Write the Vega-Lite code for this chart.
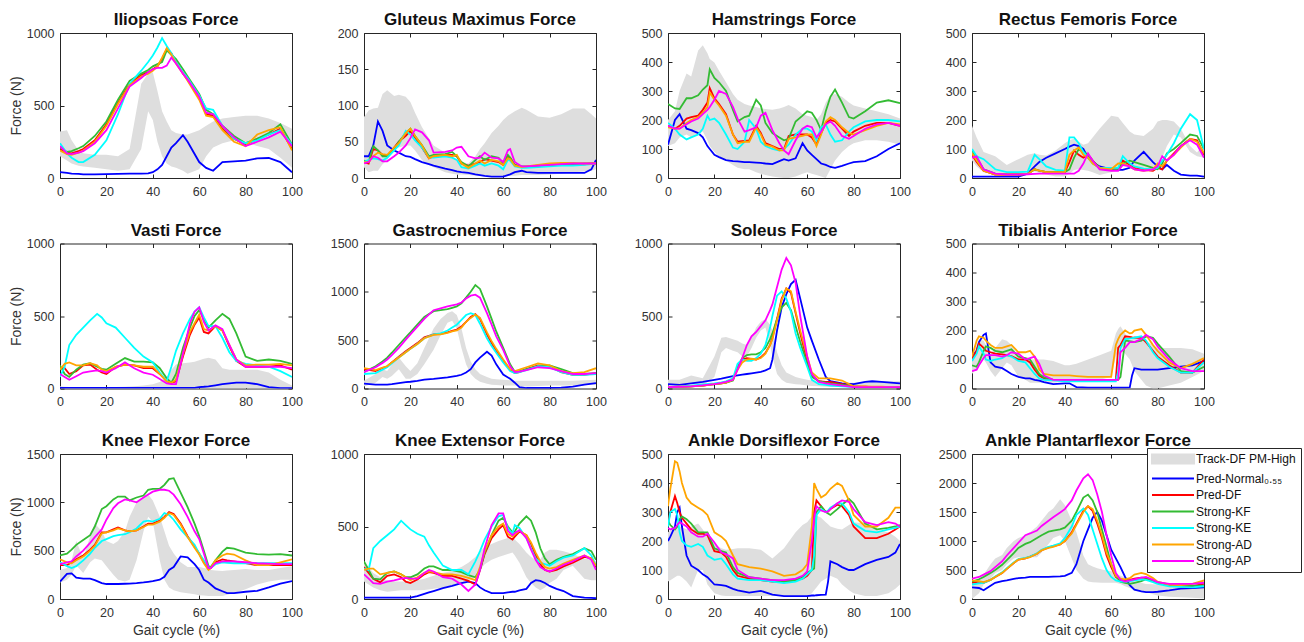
{
"$schema":"https://vega.github.io/schema/vega-lite/v6.json",
"padding":{"left":8,"top":10,"right":4,"bottom":2},
"background":"white",
"data":{"values":[
{"p":1,"x":0,"lo":150,"hi":320,"N":40,"DF":200,"KF":210,"KE":240,"AD":190,"AP":220},
{"p":1,"x":3,"lo":120,"hi":330,"N":35,"DF":175,"KF":180,"KE":170,"AD":165,"AP":170},
{"p":1,"x":5,"lo":100,"hi":260,"N":30,"DF":170,"KF":185,"KE":140,"AD":160,"AP":165},
{"p":1,"x":8,"lo":85,"hi":190,"N":28,"DF":185,"KF":205,"KE":110,"AD":175,"AP":175},
{"p":1,"x":10,"lo":80,"hi":170,"N":25,"DF":200,"KF":220,"KE":110,"AD":190,"AP":185},
{"p":1,"x":15,"lo":70,"hi":160,"N":25,"DF":260,"KF":290,"KE":160,"AD":250,"AP":240},
{"p":1,"x":20,"lo":60,"hi":160,"N":27,"DF":370,"KF":390,"KE":260,"AD":360,"AP":330},
{"p":1,"x":25,"lo":50,"hi":150,"N":28,"DF":520,"KF":540,"KE":440,"AD":510,"AP":480},
{"p":1,"x":30,"lo":60,"hi":200,"N":30,"DF":650,"KF":670,"KE":650,"AD":640,"AP":630},
{"p":1,"x":35,"lo":200,"hi":650,"N":30,"DF":710,"KF":720,"KE":740,"AD":700,"AP":690},
{"p":1,"x":38,"lo":460,"hi":720,"N":32,"DF":730,"KF":745,"KE":800,"AD":720,"AP":730},
{"p":1,"x":40,"lo":400,"hi":730,"N":40,"DF":750,"KF":770,"KE":845,"AD":740,"AP":750},
{"p":1,"x":42,"lo":250,"hi":600,"N":60,"DF":770,"KF":785,"KE":900,"AD":770,"AP":760},
{"p":1,"x":44,"lo":150,"hi":460,"N":90,"DF":820,"KF":800,"KE":965,"AD":830,"AP":760},
{"p":1,"x":46,"lo":100,"hi":390,"N":150,"DF":890,"KF":880,"KE":910,"AD":895,"AP":775},
{"p":1,"x":48,"lo":80,"hi":330,"N":210,"DF":860,"KF":850,"KE":860,"AD":850,"AP":830},
{"p":1,"x":50,"lo":70,"hi":310,"N":240,"DF":800,"KF":820,"KE":800,"AD":790,"AP":790},
{"p":1,"x":53,"lo":50,"hi":300,"N":295,"DF":720,"KF":750,"KE":730,"AD":720,"AP":720},
{"p":1,"x":55,"lo":30,"hi":300,"N":250,"DF":680,"KF":700,"KE":690,"AD":670,"AP":680},
{"p":1,"x":60,"lo":60,"hi":330,"N":110,"DF":560,"KF":580,"KE":570,"AD":540,"AP":560},
{"p":1,"x":63,"lo":150,"hi":360,"N":70,"DF":440,"KF":470,"KE":480,"AD":430,"AP":450},
{"p":1,"x":66,"lo":210,"hi":390,"N":50,"DF":430,"KF":440,"KE":470,"AD":420,"AP":440},
{"p":1,"x":70,"lo":240,"hi":410,"N":110,"DF":340,"KF":360,"KE":360,"AD":330,"AP":360},
{"p":1,"x":75,"lo":260,"hi":420,"N":115,"DF":270,"KF":290,"KE":270,"AD":250,"AP":280},
{"p":1,"x":80,"lo":250,"hi":430,"N":120,"DF":230,"KF":240,"KE":240,"AD":220,"AP":220},
{"p":1,"x":85,"lo":220,"hi":430,"N":135,"DF":270,"KF":270,"KE":260,"AD":300,"AP":250},
{"p":1,"x":90,"lo":200,"hi":410,"N":138,"DF":300,"KF":310,"KE":300,"AD":330,"AP":280},
{"p":1,"x":95,"lo":140,"hi":380,"N":110,"DF":340,"KF":370,"KE":330,"AD":350,"AP":320},
{"p":1,"x":100,"lo":70,"hi":340,"N":40,"DF":200,"KF":230,"KE":230,"AD":190,"AP":220},
{"p":2,"x":0,"lo":15,"hi":84,"N":30,"DF":22,"KF":24,"KE":22,"AD":22,"AP":20},
{"p":2,"x":2,"lo":8,"hi":93,"N":30,"DF":20,"KF":22,"KE":25,"AD":22,"AP":22},
{"p":2,"x":4,"lo":10,"hi":96,"N":45,"DF":40,"KF":44,"KE":27,"AD":30,"AP":30},
{"p":2,"x":6,"lo":10,"hi":97,"N":78,"DF":38,"KF":38,"KE":26,"AD":35,"AP":28},
{"p":2,"x":8,"lo":19,"hi":116,"N":65,"DF":32,"KF":30,"KE":24,"AD":33,"AP":23},
{"p":2,"x":10,"lo":25,"hi":121,"N":45,"DF":30,"KF":30,"KE":28,"AD":32,"AP":23},
{"p":2,"x":13,"lo":40,"hi":113,"N":38,"DF":42,"KF":40,"KE":38,"AD":42,"AP":30},
{"p":2,"x":15,"lo":42,"hi":115,"N":35,"DF":50,"KF":50,"KE":45,"AD":48,"AP":35},
{"p":2,"x":18,"lo":45,"hi":112,"N":30,"DF":58,"KF":62,"KE":65,"AD":62,"AP":45},
{"p":2,"x":20,"lo":45,"hi":105,"N":29,"DF":65,"KF":68,"KE":60,"AD":68,"AP":55},
{"p":2,"x":22,"lo":38,"hi":90,"N":26,"DF":56,"KF":58,"KE":52,"AD":58,"AP":67},
{"p":2,"x":25,"lo":25,"hi":70,"N":22,"DF":42,"KF":45,"KE":42,"AD":45,"AP":63},
{"p":2,"x":28,"lo":18,"hi":55,"N":19,"DF":27,"KF":30,"KE":28,"AD":27,"AP":52},
{"p":2,"x":30,"lo":15,"hi":45,"N":17,"DF":30,"KF":32,"KE":28,"AD":30,"AP":35},
{"p":2,"x":35,"lo":8,"hi":35,"N":13,"DF":32,"KF":33,"KE":30,"AD":32,"AP":36},
{"p":2,"x":38,"lo":6,"hi":28,"N":11,"DF":32,"KF":36,"KE":28,"AD":30,"AP":38},
{"p":2,"x":40,"lo":5,"hi":25,"N":9,"DF":30,"KF":30,"KE":25,"AD":32,"AP":42},
{"p":2,"x":42,"lo":5,"hi":22,"N":8,"DF":20,"KF":22,"KE":15,"AD":20,"AP":43},
{"p":2,"x":45,"lo":4,"hi":20,"N":7,"DF":17,"KF":16,"KE":13,"AD":14,"AP":30},
{"p":2,"x":48,"lo":3,"hi":30,"N":5,"DF":20,"KF":25,"KE":17,"AD":20,"AP":27},
{"p":2,"x":50,"lo":3,"hi":40,"N":4,"DF":22,"KF":30,"KE":20,"AD":24,"AP":28},
{"p":2,"x":52,"lo":3,"hi":48,"N":3,"DF":26,"KF":25,"KE":17,"AD":20,"AP":35},
{"p":2,"x":55,"lo":3,"hi":62,"N":2,"DF":24,"KF":30,"KE":20,"AD":25,"AP":28},
{"p":2,"x":58,"lo":3,"hi":72,"N":2,"DF":22,"KF":28,"KE":17,"AD":23,"AP":27},
{"p":2,"x":60,"lo":3,"hi":80,"N":2,"DF":18,"KF":20,"KE":12,"AD":18,"AP":22},
{"p":2,"x":62,"lo":3,"hi":86,"N":4,"DF":30,"KF":32,"KE":25,"AD":27,"AP":38},
{"p":2,"x":63,"lo":3,"hi":88,"N":5,"DF":28,"KF":28,"KE":24,"AD":26,"AP":40},
{"p":2,"x":65,"lo":3,"hi":92,"N":8,"DF":18,"KF":18,"KE":16,"AD":17,"AP":22},
{"p":2,"x":68,"lo":4,"hi":97,"N":10,"DF":15,"KF":16,"KE":14,"AD":15,"AP":16},
{"p":2,"x":70,"lo":4,"hi":94,"N":8,"DF":15,"KF":16,"KE":14,"AD":16,"AP":16},
{"p":2,"x":75,"lo":4,"hi":85,"N":7,"DF":16,"KF":17,"KE":15,"AD":18,"AP":17},
{"p":2,"x":80,"lo":5,"hi":83,"N":7,"DF":18,"KF":18,"KE":16,"AD":20,"AP":18},
{"p":2,"x":85,"lo":6,"hi":88,"N":7,"DF":18,"KF":19,"KE":17,"AD":21,"AP":19},
{"p":2,"x":90,"lo":8,"hi":96,"N":7,"DF":19,"KF":19,"KE":17,"AD":21,"AP":20},
{"p":2,"x":95,"lo":9,"hi":96,"N":7,"DF":19,"KF":20,"KE":18,"AD":20,"AP":20},
{"p":2,"x":98,"lo":10,"hi":88,"N":12,"DF":20,"KF":20,"KE":19,"AD":20,"AP":20},
{"p":2,"x":100,"lo":12,"hi":82,"N":25,"DF":20,"KF":20,"KE":20,"AD":20,"AP":20},
{"p":3,"x":0,"lo":110,"hi":200,"N":115,"DF":180,"KF":255,"KE":190,"AD":175,"AP":180},
{"p":3,"x":3,"lo":120,"hi":230,"N":200,"DF":170,"KF":240,"KE":170,"AD":170,"AP":170},
{"p":3,"x":5,"lo":140,"hi":300,"N":220,"DF":180,"KF":238,"KE":150,"AD":170,"AP":170},
{"p":3,"x":8,"lo":150,"hi":360,"N":170,"DF":205,"KF":275,"KE":133,"AD":190,"AP":185},
{"p":3,"x":10,"lo":140,"hi":350,"N":165,"DF":210,"KF":275,"KE":140,"AD":200,"AP":195},
{"p":3,"x":13,"lo":150,"hi":440,"N":155,"DF":215,"KF":285,"KE":150,"AD":210,"AP":205},
{"p":3,"x":15,"lo":160,"hi":458,"N":140,"DF":235,"KF":305,"KE":170,"AD":225,"AP":220},
{"p":3,"x":17,"lo":130,"hi":430,"N":110,"DF":260,"KF":320,"KE":215,"AD":245,"AP":235},
{"p":3,"x":18,"lo":110,"hi":410,"N":100,"DF":310,"KF":375,"KE":200,"AD":295,"AP":245},
{"p":3,"x":20,"lo":90,"hi":398,"N":80,"DF":275,"KF":345,"KE":205,"AD":270,"AP":270},
{"p":3,"x":22,"lo":75,"hi":370,"N":72,"DF":255,"KF":330,"KE":190,"AD":250,"AP":300},
{"p":3,"x":25,"lo":60,"hi":330,"N":62,"DF":220,"KF":300,"KE":150,"AD":215,"AP":290},
{"p":3,"x":28,"lo":45,"hi":290,"N":58,"DF":150,"KF":235,"KE":105,"AD":150,"AP":245},
{"p":3,"x":30,"lo":35,"hi":270,"N":57,"DF":125,"KF":195,"KE":100,"AD":120,"AP":205},
{"p":3,"x":33,"lo":30,"hi":255,"N":55,"DF":128,"KF":210,"KE":125,"AD":125,"AP":160},
{"p":3,"x":35,"lo":30,"hi":250,"N":55,"DF":130,"KF":215,"KE":200,"AD":125,"AP":165},
{"p":3,"x":38,"lo":20,"hi":245,"N":53,"DF":180,"KF":270,"KE":170,"AD":175,"AP":175},
{"p":3,"x":40,"lo":15,"hi":240,"N":52,"DF":155,"KF":250,"KE":125,"AD":150,"AP":215},
{"p":3,"x":42,"lo":10,"hi":238,"N":50,"DF":120,"KF":190,"KE":110,"AD":115,"AP":225},
{"p":3,"x":45,"lo":5,"hi":235,"N":48,"DF":110,"KF":155,"KE":100,"AD":108,"AP":165},
{"p":3,"x":48,"lo":2,"hi":240,"N":58,"DF":100,"KF":140,"KE":95,"AD":95,"AP":120},
{"p":3,"x":50,"lo":0,"hi":245,"N":65,"DF":100,"KF":130,"KE":100,"AD":95,"AP":95},
{"p":3,"x":52,"lo":0,"hi":252,"N":60,"DF":145,"KF":135,"KE":115,"AD":135,"AP":82},
{"p":3,"x":55,"lo":5,"hi":240,"N":68,"DF":150,"KF":195,"KE":150,"AD":140,"AP":130},
{"p":3,"x":58,"lo":15,"hi":220,"N":120,"DF":150,"KF":215,"KE":170,"AD":145,"AP":170},
{"p":3,"x":60,"lo":20,"hi":215,"N":95,"DF":150,"KF":230,"KE":170,"AD":150,"AP":180},
{"p":3,"x":62,"lo":15,"hi":210,"N":80,"DF":140,"KF":225,"KE":160,"AD":150,"AP":175},
{"p":3,"x":64,"lo":10,"hi":200,"N":65,"DF":115,"KF":200,"KE":130,"AD":110,"AP":140},
{"p":3,"x":66,"lo":5,"hi":220,"N":50,"DF":155,"KF":165,"KE":175,"AD":150,"AP":160},
{"p":3,"x":68,"lo":0,"hi":260,"N":45,"DF":190,"KF":230,"KE":185,"AD":195,"AP":185},
{"p":3,"x":70,"lo":30,"hi":285,"N":38,"DF":200,"KF":280,"KE":150,"AD":210,"AP":195},
{"p":3,"x":72,"lo":60,"hi":290,"N":35,"DF":195,"KF":305,"KE":125,"AD":200,"AP":180},
{"p":3,"x":75,"lo":90,"hi":280,"N":42,"DF":170,"KF":260,"KE":130,"AD":175,"AP":145},
{"p":3,"x":78,"lo":110,"hi":260,"N":50,"DF":145,"KF":210,"KE":160,"AD":155,"AP":135},
{"p":3,"x":80,"lo":120,"hi":250,"N":55,"DF":160,"KF":205,"KE":175,"AD":150,"AP":145},
{"p":3,"x":85,"lo":130,"hi":240,"N":58,"DF":180,"KF":230,"KE":195,"AD":165,"AP":170},
{"p":3,"x":90,"lo":130,"hi":230,"N":75,"DF":190,"KF":260,"KE":200,"AD":180,"AP":185},
{"p":3,"x":95,"lo":125,"hi":220,"N":100,"DF":190,"KF":268,"KE":200,"AD":190,"AP":190},
{"p":3,"x":100,"lo":115,"hi":205,"N":120,"DF":180,"KF":258,"KE":195,"AD":185,"AP":180},
{"p":4,"x":0,"lo":60,"hi":180,"N":5,"DF":80,"KF":95,"KE":100,"AD":85,"AP":70},
{"p":4,"x":2,"lo":40,"hi":140,"N":5,"DF":55,"KF":70,"KE":75,"AD":60,"AP":75},
{"p":4,"x":5,"lo":20,"hi":90,"N":5,"DF":25,"KF":30,"KE":65,"AD":25,"AP":30},
{"p":4,"x":10,"lo":10,"hi":75,"N":5,"DF":12,"KF":15,"KE":30,"AD":12,"AP":15},
{"p":4,"x":15,"lo":5,"hi":45,"N":5,"DF":12,"KF":13,"KE":20,"AD":12,"AP":12},
{"p":4,"x":20,"lo":10,"hi":65,"N":5,"DF":12,"KF":12,"KE":20,"AD":12,"AP":12},
{"p":4,"x":24,"lo":20,"hi":80,"N":15,"DF":14,"KF":14,"KE":22,"AD":14,"AP":13},
{"p":4,"x":27,"lo":22,"hi":85,"N":40,"DF":30,"KF":30,"KE":80,"AD":30,"AP":14},
{"p":4,"x":29,"lo":18,"hi":80,"N":55,"DF":25,"KF":25,"KE":65,"AD":25,"AP":15},
{"p":4,"x":32,"lo":12,"hi":78,"N":70,"DF":20,"KF":20,"KE":40,"AD":20,"AP":15},
{"p":4,"x":36,"lo":5,"hi":95,"N":85,"DF":20,"KF":20,"KE":28,"AD":20,"AP":15},
{"p":4,"x":40,"lo":5,"hi":120,"N":100,"DF":20,"KF":20,"KE":25,"AD":20,"AP":15},
{"p":4,"x":42,"lo":15,"hi":130,"N":108,"DF":55,"KF":30,"KE":140,"AD":80,"AP":15},
{"p":4,"x":44,"lo":28,"hi":135,"N":115,"DF":95,"KF":70,"KE":140,"AD":95,"AP":15},
{"p":4,"x":46,"lo":30,"hi":125,"N":110,"DF":80,"KF":100,"KE":120,"AD":105,"AP":25},
{"p":4,"x":48,"lo":28,"hi":115,"N":100,"DF":70,"KF":90,"KE":90,"AD":80,"AP":50},
{"p":4,"x":50,"lo":25,"hi":120,"N":70,"DF":80,"KF":80,"KE":70,"AD":70,"AP":85},
{"p":4,"x":52,"lo":20,"hi":140,"N":55,"DF":60,"KF":60,"KE":50,"AD":50,"AP":60},
{"p":4,"x":55,"lo":10,"hi":170,"N":40,"DF":35,"KF":35,"KE":35,"AD":35,"AP":30},
{"p":4,"x":60,"lo":20,"hi":215,"N":30,"DF":30,"KF":30,"KE":35,"AD":30,"AP":25},
{"p":4,"x":63,"lo":30,"hi":210,"N":28,"DF":30,"KF":30,"KE":35,"AD":50,"AP":25},
{"p":4,"x":65,"lo":40,"hi":190,"N":28,"DF":60,"KF":50,"KE":75,"AD":50,"AP":45},
{"p":4,"x":68,"lo":40,"hi":160,"N":35,"DF":45,"KF":60,"KE":50,"AD":40,"AP":40},
{"p":4,"x":70,"lo":40,"hi":150,"N":60,"DF":35,"KF":55,"KE":40,"AD":30,"AP":30},
{"p":4,"x":74,"lo":30,"hi":145,"N":90,"DF":28,"KF":45,"KE":32,"AD":25,"AP":25},
{"p":4,"x":78,"lo":30,"hi":170,"N":55,"DF":25,"KF":35,"KE":30,"AD":30,"AP":30},
{"p":4,"x":80,"lo":40,"hi":195,"N":40,"DF":35,"KF":30,"KE":35,"AD":50,"AP":40},
{"p":4,"x":82,"lo":70,"hi":200,"N":30,"DF":30,"KF":50,"KE":60,"AD":40,"AP":75},
{"p":4,"x":84,"lo":110,"hi":200,"N":45,"DF":60,"KF":85,"KE":80,"AD":60,"AP":60},
{"p":4,"x":87,"lo":150,"hi":195,"N":25,"DF":85,"KF":100,"KE":120,"AD":80,"AP":80},
{"p":4,"x":90,"lo":140,"hi":170,"N":12,"DF":110,"KF":120,"KE":170,"AD":105,"AP":110},
{"p":4,"x":94,"lo":90,"hi":110,"N":8,"DF":135,"KF":150,"KE":220,"AD":135,"AP":130},
{"p":4,"x":97,"lo":75,"hi":88,"N":8,"DF":130,"KF":145,"KE":200,"AD":125,"AP":115},
{"p":4,"x":100,"lo":70,"hi":120,"N":5,"DF":80,"KF":100,"KE":100,"AD":85,"AP":70},
{"p":5,"x":0,"lo":0,"hi":15,"N":5,"DF":140,"KF":160,"KE":80,"AD":130,"AP":100},
{"p":5,"x":2,"lo":0,"hi":12,"N":5,"DF":140,"KF":100,"KE":150,"AD":170,"AP":80},
{"p":5,"x":4,"lo":0,"hi":10,"N":5,"DF":100,"KF":80,"KE":300,"AD":180,"AP":60},
{"p":5,"x":7,"lo":0,"hi":8,"N":5,"DF":120,"KF":130,"KE":370,"AD":160,"AP":85},
{"p":5,"x":10,"lo":0,"hi":8,"N":5,"DF":160,"KF":165,"KE":420,"AD":160,"AP":110},
{"p":5,"x":13,"lo":0,"hi":8,"N":5,"DF":165,"KF":175,"KE":470,"AD":175,"AP":118},
{"p":5,"x":16,"lo":0,"hi":8,"N":5,"DF":130,"KF":150,"KE":515,"AD":160,"AP":125},
{"p":5,"x":18,"lo":0,"hi":8,"N":5,"DF":110,"KF":135,"KE":490,"AD":130,"AP":120},
{"p":5,"x":20,"lo":0,"hi":8,"N":5,"DF":100,"KF":130,"KE":450,"AD":120,"AP":110},
{"p":5,"x":24,"lo":0,"hi":10,"N":5,"DF":150,"KF":170,"KE":420,"AD":150,"AP":140},
{"p":5,"x":28,"lo":0,"hi":12,"N":5,"DF":165,"KF":210,"KE":350,"AD":165,"AP":180},
{"p":5,"x":32,"lo":0,"hi":15,"N":5,"DF":160,"KF":185,"KE":280,"AD":160,"AP":140},
{"p":5,"x":36,"lo":0,"hi":20,"N":5,"DF":140,"KF":185,"KE":220,"AD":150,"AP":110},
{"p":5,"x":40,"lo":0,"hi":30,"N":5,"DF":140,"KF":180,"KE":180,"AD":150,"AP":95},
{"p":5,"x":43,"lo":0,"hi":45,"N":5,"DF":100,"KF":140,"KE":110,"AD":100,"AP":65},
{"p":5,"x":46,"lo":0,"hi":80,"N":5,"DF":50,"KF":70,"KE":50,"AD":50,"AP":35},
{"p":5,"x":48,"lo":0,"hi":130,"N":5,"DF":40,"KF":40,"KE":150,"AD":40,"AP":30},
{"p":5,"x":50,"lo":0,"hi":165,"N":5,"DF":50,"KF":100,"KE":260,"AD":60,"AP":30},
{"p":5,"x":53,"lo":0,"hi":175,"N":5,"DF":220,"KF":280,"KE":380,"AD":240,"AP":240},
{"p":5,"x":56,"lo":0,"hi":180,"N":5,"DF":370,"KF":420,"KE":480,"AD":390,"AP":450},
{"p":5,"x":58,"lo":0,"hi":185,"N":5,"DF":440,"KF":500,"KE":530,"AD":450,"AP":530},
{"p":5,"x":60,"lo":0,"hi":195,"N":10,"DF":490,"KF":540,"KE":560,"AD":510,"AP":560},
{"p":5,"x":62,"lo":0,"hi":205,"N":12,"DF":390,"KF":480,"KE":490,"AD":410,"AP":460},
{"p":5,"x":64,"lo":0,"hi":212,"N":15,"DF":380,"KF":420,"KE":430,"AD":400,"AP":400},
{"p":5,"x":67,"lo":0,"hi":200,"N":22,"DF":430,"KF":470,"KE":430,"AD":430,"AP":435},
{"p":5,"x":70,"lo":0,"hi":140,"N":30,"DF":400,"KF":515,"KE":350,"AD":400,"AP":410},
{"p":5,"x":73,"lo":0,"hi":130,"N":35,"DF":290,"KF":480,"KE":250,"AD":300,"AP":300},
{"p":5,"x":76,"lo":0,"hi":130,"N":40,"DF":190,"KF":380,"KE":190,"AD":200,"AP":200},
{"p":5,"x":80,"lo":0,"hi":130,"N":40,"DF":150,"KF":220,"KE":170,"AD":160,"AP":150},
{"p":5,"x":85,"lo":0,"hi":130,"N":30,"DF":150,"KF":190,"KE":160,"AD":165,"AP":150},
{"p":5,"x":90,"lo":0,"hi":110,"N":10,"DF":150,"KF":200,"KE":150,"AD":165,"AP":150},
{"p":5,"x":95,"lo":0,"hi":60,"N":2,"DF":160,"KF":190,"KE":120,"AD":170,"AP":150},
{"p":5,"x":100,"lo":0,"hi":20,"N":2,"DF":130,"KF":170,"KE":80,"AD":160,"AP":140},
{"p":6,"x":0,"lo":20,"hi":80,"N":50,"DF":200,"KF":170,"KE":150,"AD":210,"AP":170},
{"p":6,"x":5,"lo":60,"hi":150,"N":40,"DF":180,"KF":230,"KE":160,"AD":190,"AP":220},
{"p":6,"x":8,"lo":120,"hi":200,"N":40,"DF":210,"KF":280,"KE":195,"AD":215,"AP":265},
{"p":6,"x":10,"lo":100,"hi":180,"N":40,"DF":230,"KF":320,"KE":220,"AD":230,"AP":300},
{"p":6,"x":12,"lo":130,"hi":250,"N":45,"DF":270,"KF":370,"KE":260,"AD":270,"AP":345},
{"p":6,"x":15,"lo":200,"hi":320,"N":55,"DF":330,"KF":450,"KE":320,"AD":320,"AP":420},
{"p":6,"x":18,"lo":100,"hi":230,"N":65,"DF":385,"KF":530,"KE":375,"AD":375,"AP":505},
{"p":6,"x":20,"lo":100,"hi":180,"N":70,"DF":420,"KF":580,"KE":410,"AD":410,"AP":560},
{"p":6,"x":23,"lo":150,"hi":260,"N":80,"DF":470,"KF":660,"KE":460,"AD":460,"AP":640},
{"p":6,"x":26,"lo":250,"hi":420,"N":92,"DF":530,"KF":740,"KE":520,"AD":520,"AP":720},
{"p":6,"x":30,"lo":400,"hi":620,"N":100,"DF":560,"KF":800,"KE":560,"AD":555,"AP":810},
{"p":6,"x":33,"lo":550,"hi":720,"N":108,"DF":565,"KF":810,"KE":570,"AD":560,"AP":830},
{"p":6,"x":36,"lo":680,"hi":780,"N":115,"DF":580,"KF":820,"KE":600,"AD":575,"AP":850},
{"p":6,"x":38,"lo":700,"hi":800,"N":122,"DF":595,"KF":835,"KE":630,"AD":590,"AP":860},
{"p":6,"x":40,"lo":620,"hi":760,"N":130,"DF":610,"KF":850,"KE":660,"AD":600,"AP":870},
{"p":6,"x":42,"lo":420,"hi":620,"N":142,"DF":640,"KF":880,"KE":710,"AD":630,"AP":890},
{"p":6,"x":44,"lo":250,"hi":420,"N":165,"DF":690,"KF":940,"KE":760,"AD":690,"AP":930},
{"p":6,"x":46,"lo":150,"hi":280,"N":200,"DF":740,"KF":1000,"KE":780,"AD":730,"AP":960},
{"p":6,"x":48,"lo":100,"hi":200,"N":270,"DF":770,"KF":1070,"KE":760,"AD":765,"AP":970},
{"p":6,"x":50,"lo":70,"hi":150,"N":320,"DF":720,"KF":1030,"KE":670,"AD":730,"AP":940},
{"p":6,"x":53,"lo":50,"hi":120,"N":380,"DF":560,"KF":850,"KE":520,"AD":580,"AP":780},
{"p":6,"x":55,"lo":40,"hi":100,"N":340,"DF":470,"KF":720,"KE":440,"AD":490,"AP":660},
{"p":6,"x":57,"lo":35,"hi":95,"N":250,"DF":390,"KF":590,"KE":370,"AD":410,"AP":540},
{"p":6,"x":60,"lo":30,"hi":90,"N":145,"DF":290,"KF":420,"KE":270,"AD":300,"AP":400},
{"p":6,"x":63,"lo":30,"hi":85,"N":100,"DF":190,"KF":250,"KE":180,"AD":200,"AP":230},
{"p":6,"x":65,"lo":30,"hi":80,"N":60,"DF":160,"KF":170,"KE":160,"AD":180,"AP":170},
{"p":6,"x":67,"lo":25,"hi":80,"N":15,"DF":170,"KF":180,"KE":170,"AD":195,"AP":175},
{"p":6,"x":70,"lo":20,"hi":80,"N":5,"DF":200,"KF":200,"KE":190,"AD":220,"AP":190},
{"p":6,"x":75,"lo":25,"hi":80,"N":5,"DF":240,"KF":230,"KE":230,"AD":260,"AP":220},
{"p":6,"x":80,"lo":30,"hi":80,"N":5,"DF":230,"KF":240,"KE":220,"AD":240,"AP":210},
{"p":6,"x":85,"lo":30,"hi":80,"N":10,"DF":170,"KF":200,"KE":170,"AD":180,"AP":180},
{"p":6,"x":90,"lo":30,"hi":80,"N":20,"DF":140,"KF":160,"KE":140,"AD":160,"AP":150},
{"p":6,"x":95,"lo":35,"hi":85,"N":40,"DF":140,"KF":150,"KE":140,"AD":170,"AP":150},
{"p":6,"x":100,"lo":40,"hi":90,"N":55,"DF":160,"KF":160,"KE":150,"AD":210,"AP":160},
{"p":7,"x":0,"lo":20,"hi":60,"N":30,"DF":10,"KF":10,"KE":10,"AD":10,"AP":10},
{"p":7,"x":5,"lo":20,"hi":60,"N":25,"DF":12,"KF":12,"KE":14,"AD":12,"AP":12},
{"p":7,"x":10,"lo":40,"hi":90,"N":35,"DF":15,"KF":15,"KE":20,"AD":15,"AP":15},
{"p":7,"x":15,"lo":20,"hi":70,"N":45,"DF":20,"KF":20,"KE":28,"AD":20,"AP":22},
{"p":7,"x":20,"lo":80,"hi":220,"N":60,"DF":30,"KF":30,"KE":35,"AD":30,"AP":30},
{"p":7,"x":23,"lo":250,"hi":350,"N":68,"DF":35,"KF":35,"KE":42,"AD":35,"AP":38},
{"p":7,"x":25,"lo":280,"hi":355,"N":75,"DF":40,"KF":40,"KE":50,"AD":40,"AP":45},
{"p":7,"x":28,"lo":260,"hi":340,"N":85,"DF":60,"KF":55,"KE":70,"AD":60,"AP":60},
{"p":7,"x":30,"lo":250,"hi":330,"N":90,"DF":140,"KF":150,"KE":170,"AD":130,"AP":130},
{"p":7,"x":32,"lo":220,"hi":310,"N":95,"DF":200,"KF":210,"KE":200,"AD":180,"AP":210},
{"p":7,"x":34,"lo":220,"hi":300,"N":100,"DF":210,"KF":230,"KE":190,"AD":200,"AP":300},
{"p":7,"x":36,"lo":280,"hi":350,"N":105,"DF":205,"KF":235,"KE":190,"AD":205,"AP":360},
{"p":7,"x":38,"lo":350,"hi":420,"N":110,"DF":200,"KF":235,"KE":210,"AD":200,"AP":390},
{"p":7,"x":40,"lo":400,"hi":460,"N":115,"DF":215,"KF":250,"KE":240,"AD":210,"AP":430},
{"p":7,"x":42,"lo":420,"hi":480,"N":125,"DF":245,"KF":280,"KE":300,"AD":240,"AP":470},
{"p":7,"x":44,"lo":300,"hi":440,"N":140,"DF":300,"KF":340,"KE":420,"AD":300,"AP":540},
{"p":7,"x":45,"lo":220,"hi":400,"N":200,"DF":350,"KF":380,"KE":500,"AD":340,"AP":580},
{"p":7,"x":47,"lo":100,"hi":250,"N":400,"DF":480,"KF":480,"KE":640,"AD":470,"AP":700},
{"p":7,"x":49,"lo":60,"hi":160,"N":560,"DF":620,"KF":560,"KE":670,"AD":610,"AP":820},
{"p":7,"x":51,"lo":40,"hi":110,"N":650,"DF":690,"KF":590,"KE":620,"AD":690,"AP":900},
{"p":7,"x":53,"lo":35,"hi":95,"N":720,"DF":660,"KF":540,"KE":530,"AD":670,"AP":850},
{"p":7,"x":55,"lo":30,"hi":80,"N":750,"DF":520,"KF":430,"KE":380,"AD":530,"AP":730},
{"p":7,"x":57,"lo":28,"hi":70,"N":620,"DF":380,"KF":320,"KE":280,"AD":400,"AP":500},
{"p":7,"x":60,"lo":20,"hi":60,"N":420,"DF":190,"KF":170,"KE":150,"AD":220,"AP":220},
{"p":7,"x":62,"lo":18,"hi":55,"N":330,"DF":90,"KF":80,"KE":60,"AD":110,"AP":100},
{"p":7,"x":65,"lo":15,"hi":50,"N":200,"DF":50,"KF":50,"KE":30,"AD":70,"AP":45},
{"p":7,"x":68,"lo":12,"hi":45,"N":80,"DF":45,"KF":40,"KE":25,"AD":70,"AP":35},
{"p":7,"x":70,"lo":10,"hi":40,"N":50,"DF":45,"KF":35,"KE":20,"AD":70,"AP":30},
{"p":7,"x":75,"lo":10,"hi":40,"N":35,"DF":30,"KF":25,"KE":15,"AD":55,"AP":20},
{"p":7,"x":80,"lo":10,"hi":40,"N":30,"DF":15,"KF":15,"KE":10,"AD":15,"AP":10},
{"p":7,"x":85,"lo":10,"hi":45,"N":45,"DF":12,"KF":10,"KE":10,"AD":15,"AP":10},
{"p":7,"x":88,"lo":10,"hi":50,"N":50,"DF":10,"KF":10,"KE":10,"AD":12,"AP":10},
{"p":7,"x":92,"lo":10,"hi":50,"N":45,"DF":10,"KF":10,"KE":10,"AD":12,"AP":10},
{"p":7,"x":96,"lo":10,"hi":50,"N":40,"DF":10,"KF":10,"KE":10,"AD":10,"AP":10},
{"p":7,"x":100,"lo":10,"hi":50,"N":35,"DF":10,"KF":10,"KE":10,"AD":10,"AP":10},
{"p":8,"x":0,"lo":50,"hi":110,"N":110,"DF":100,"KF":80,"KE":95,"AD":110,"AP":60},
{"p":8,"x":2,"lo":70,"hi":150,"N":130,"DF":130,"KF":75,"KE":120,"AD":165,"AP":65},
{"p":8,"x":3,"lo":90,"hi":170,"N":160,"DF":155,"KF":90,"KE":145,"AD":180,"AP":80},
{"p":8,"x":5,"lo":100,"hi":165,"N":185,"DF":140,"KF":130,"KE":120,"AD":175,"AP":105},
{"p":8,"x":6,"lo":90,"hi":150,"N":190,"DF":130,"KF":145,"KE":100,"AD":165,"AP":115},
{"p":8,"x":8,"lo":60,"hi":120,"N":90,"DF":125,"KF":140,"KE":95,"AD":150,"AP":115},
{"p":8,"x":10,"lo":40,"hi":140,"N":75,"DF":120,"KF":130,"KE":100,"AD":140,"AP":115},
{"p":8,"x":13,"lo":70,"hi":170,"N":70,"DF":118,"KF":125,"KE":105,"AD":140,"AP":110},
{"p":8,"x":15,"lo":90,"hi":165,"N":60,"DF":115,"KF":130,"KE":115,"AD":145,"AP":115},
{"p":8,"x":17,"lo":80,"hi":150,"N":50,"DF":112,"KF":135,"KE":110,"AD":150,"AP":125},
{"p":8,"x":20,"lo":40,"hi":110,"N":40,"DF":100,"KF":110,"KE":95,"AD":125,"AP":120},
{"p":8,"x":23,"lo":30,"hi":105,"N":35,"DF":100,"KF":105,"KE":90,"AD":125,"AP":100},
{"p":8,"x":25,"lo":20,"hi":100,"N":35,"DF":90,"KF":100,"KE":70,"AD":130,"AP":105},
{"p":8,"x":27,"lo":20,"hi":100,"N":30,"DF":65,"KF":75,"KE":50,"AD":110,"AP":110},
{"p":8,"x":29,"lo":20,"hi":100,"N":27,"DF":45,"KF":50,"KE":35,"AD":65,"AP":85},
{"p":8,"x":31,"lo":20,"hi":100,"N":22,"DF":35,"KF":38,"KE":30,"AD":50,"AP":45},
{"p":8,"x":35,"lo":20,"hi":95,"N":15,"DF":30,"KF":30,"KE":28,"AD":45,"AP":30},
{"p":8,"x":40,"lo":25,"hi":80,"N":18,"DF":30,"KF":30,"KE":25,"AD":45,"AP":30},
{"p":8,"x":42,"lo":25,"hi":80,"N":18,"DF":30,"KF":30,"KE":25,"AD":45,"AP":30},
{"p":8,"x":45,"lo":25,"hi":85,"N":5,"DF":30,"KF":30,"KE":25,"AD":43,"AP":30},
{"p":8,"x":50,"lo":30,"hi":100,"N":3,"DF":30,"KF":30,"KE":25,"AD":40,"AP":30},
{"p":8,"x":55,"lo":30,"hi":115,"N":3,"DF":30,"KF":30,"KE":25,"AD":40,"AP":30},
{"p":8,"x":60,"lo":40,"hi":130,"N":3,"DF":30,"KF":30,"KE":25,"AD":40,"AP":30},
{"p":8,"x":62,"lo":110,"hi":190,"N":3,"DF":30,"KF":30,"KE":25,"AD":150,"AP":30},
{"p":8,"x":63,"lo":130,"hi":205,"N":3,"DF":140,"KF":30,"KE":60,"AD":170,"AP":30},
{"p":8,"x":64,"lo":140,"hi":215,"N":3,"DF":150,"KF":40,"KE":140,"AD":185,"AP":125},
{"p":8,"x":66,"lo":120,"hi":190,"N":3,"DF":180,"KF":165,"KE":170,"AD":200,"AP":140},
{"p":8,"x":68,"lo":100,"hi":165,"N":4,"DF":178,"KF":163,"KE":172,"AD":190,"AP":160},
{"p":8,"x":69,"lo":80,"hi":170,"N":45,"DF":176,"KF":162,"KE":174,"AD":192,"AP":160},
{"p":8,"x":70,"lo":60,"hi":180,"N":70,"DF":175,"KF":160,"KE":175,"AD":200,"AP":160},
{"p":8,"x":73,"lo":30,"hi":175,"N":65,"DF":175,"KF":165,"KE":180,"AD":205,"AP":170},
{"p":8,"x":75,"lo":10,"hi":165,"N":65,"DF":160,"KF":180,"KE":165,"AD":185,"AP":185},
{"p":8,"x":78,"lo":0,"hi":150,"N":65,"DF":130,"KF":175,"KE":125,"AD":150,"AP":170},
{"p":8,"x":80,"lo":0,"hi":140,"N":65,"DF":110,"KF":155,"KE":105,"AD":130,"AP":145},
{"p":8,"x":85,"lo":10,"hi":140,"N":70,"DF":80,"KF":110,"KE":75,"AD":90,"AP":100},
{"p":8,"x":90,"lo":20,"hi":140,"N":75,"DF":55,"KF":60,"KE":55,"AD":70,"AP":70},
{"p":8,"x":95,"lo":40,"hi":135,"N":80,"DF":55,"KF":55,"KE":55,"AD":85,"AP":60},
{"p":8,"x":100,"lo":60,"hi":120,"N":95,"DF":100,"KF":75,"KE":90,"AD":105,"AP":60},
{"p":9,"x":0,"lo":170,"hi":300,"N":180,"DF":350,"KF":450,"KE":380,"AD":410,"AP":360},
{"p":9,"x":3,"lo":200,"hi":320,"N":260,"DF":350,"KF":470,"KE":340,"AD":380,"AP":380},
{"p":9,"x":5,"lo":250,"hi":400,"N":265,"DF":380,"KF":510,"KE":320,"AD":370,"AP":390},
{"p":9,"x":7,"lo":350,"hi":600,"N":220,"DF":410,"KF":560,"KE":340,"AD":400,"AP":440},
{"p":9,"x":10,"lo":270,"hi":420,"N":210,"DF":450,"KF":610,"KE":400,"AD":440,"AP":500},
{"p":9,"x":13,"lo":380,"hi":650,"N":210,"DF":510,"KF":660,"KE":470,"AD":500,"AP":580},
{"p":9,"x":15,"lo":420,"hi":780,"N":195,"DF":560,"KF":750,"KE":530,"AD":550,"AP":640},
{"p":9,"x":18,"lo":400,"hi":700,"N":165,"DF":690,"KF":930,"KE":600,"AD":680,"AP":720},
{"p":9,"x":20,"lo":340,"hi":600,"N":155,"DF":690,"KF":960,"KE":620,"AD":690,"AP":820},
{"p":9,"x":23,"lo":250,"hi":570,"N":155,"DF":720,"KF":1030,"KE":650,"AD":710,"AP":940},
{"p":9,"x":25,"lo":200,"hi":600,"N":155,"DF":740,"KF":1060,"KE":660,"AD":730,"AP":990},
{"p":9,"x":28,"lo":180,"hi":700,"N":158,"DF":710,"KF":1060,"KE":670,"AD":710,"AP":1030},
{"p":9,"x":30,"lo":200,"hi":850,"N":160,"DF":700,"KF":1020,"KE":690,"AD":700,"AP":1020},
{"p":9,"x":33,"lo":400,"hi":1000,"N":165,"DF":710,"KF":1050,"KE":730,"AD":710,"AP":1000},
{"p":9,"x":36,"lo":700,"hi":1060,"N":172,"DF":750,"KF":1070,"KE":800,"AD":745,"AP":1050},
{"p":9,"x":38,"lo":850,"hi":1080,"N":178,"DF":780,"KF":1130,"KE":810,"AD":770,"AP":1080},
{"p":9,"x":40,"lo":800,"hi":1020,"N":185,"DF":780,"KF":1140,"KE":800,"AD":770,"AP":1110},
{"p":9,"x":43,"lo":400,"hi":850,"N":200,"DF":810,"KF":1140,"KE":830,"AD":800,"AP":1130},
{"p":9,"x":45,"lo":200,"hi":700,"N":230,"DF":850,"KF":1180,"KE":890,"AD":840,"AP":1130},
{"p":9,"x":47,"lo":120,"hi":550,"N":300,"DF":900,"KF":1240,"KE":870,"AD":890,"AP":1120},
{"p":9,"x":49,"lo":90,"hi":470,"N":330,"DF":880,"KF":1250,"KE":820,"AD":870,"AP":1080},
{"p":9,"x":52,"lo":70,"hi":380,"N":440,"DF":780,"KF":1100,"KE":720,"AD":770,"AP":980},
{"p":9,"x":55,"lo":60,"hi":330,"N":430,"DF":650,"KF":950,"KE":640,"AD":640,"AP":850},
{"p":9,"x":58,"lo":50,"hi":330,"N":360,"DF":540,"KF":780,"KE":560,"AD":530,"AP":700},
{"p":9,"x":60,"lo":40,"hi":330,"N":300,"DF":470,"KF":650,"KE":470,"AD":460,"AP":620},
{"p":9,"x":62,"lo":35,"hi":320,"N":200,"DF":380,"KF":500,"KE":400,"AD":370,"AP":470},
{"p":9,"x":64,"lo":30,"hi":310,"N":170,"DF":310,"KF":340,"KE":330,"AD":300,"AP":320},
{"p":9,"x":65,"lo":30,"hi":300,"N":150,"DF":320,"KF":330,"KE":320,"AD":320,"AP":320},
{"p":9,"x":67,"lo":30,"hi":295,"N":110,"DF":380,"KF":400,"KE":360,"AD":400,"AP":370},
{"p":9,"x":70,"lo":30,"hi":290,"N":80,"DF":410,"KF":490,"KE":380,"AD":450,"AP":390},
{"p":9,"x":72,"lo":45,"hi":295,"N":60,"DF":400,"KF":530,"KE":375,"AD":470,"AP":390},
{"p":9,"x":75,"lo":60,"hi":300,"N":60,"DF":390,"KF":520,"KE":370,"AD":460,"AP":390},
{"p":9,"x":80,"lo":100,"hi":310,"N":75,"DF":370,"KF":480,"KE":370,"AD":400,"AP":380},
{"p":9,"x":85,"lo":150,"hi":300,"N":85,"DF":350,"KF":465,"KE":370,"AD":350,"AP":370},
{"p":9,"x":90,"lo":180,"hi":300,"N":120,"DF":350,"KF":460,"KE":370,"AD":350,"AP":365},
{"p":9,"x":95,"lo":200,"hi":320,"N":160,"DF":350,"KF":465,"KE":370,"AD":380,"AP":360},
{"p":9,"x":100,"lo":200,"hi":340,"N":185,"DF":350,"KF":450,"KE":370,"AD":410,"AP":360},
{"p":10,"x":0,"lo":120,"hi":250,"N":10,"DF":220,"KF":260,"KE":210,"AD":200,"AP":170},
{"p":10,"x":2,"lo":100,"hi":220,"N":10,"DF":180,"KF":200,"KE":200,"AD":210,"AP":140},
{"p":10,"x":4,"lo":80,"hi":180,"N":10,"DF":140,"KF":140,"KE":350,"AD":210,"AP":110},
{"p":10,"x":7,"lo":60,"hi":150,"N":10,"DF":115,"KF":135,"KE":400,"AD":170,"AP":105},
{"p":10,"x":10,"lo":50,"hi":130,"N":10,"DF":160,"KF":180,"KE":440,"AD":180,"AP":120},
{"p":10,"x":13,"lo":55,"hi":120,"N":10,"DF":170,"KF":190,"KE":480,"AD":190,"AP":128},
{"p":10,"x":16,"lo":60,"hi":120,"N":10,"DF":150,"KF":170,"KE":540,"AD":170,"AP":140},
{"p":10,"x":18,"lo":60,"hi":120,"N":10,"DF":120,"KF":150,"KE":510,"AD":150,"AP":145},
{"p":10,"x":20,"lo":60,"hi":120,"N":10,"DF":110,"KF":150,"KE":480,"AD":130,"AP":140},
{"p":10,"x":23,"lo":60,"hi":130,"N":20,"DF":135,"KF":170,"KE":450,"AD":150,"AP":140},
{"p":10,"x":26,"lo":62,"hi":140,"N":35,"DF":170,"KF":210,"KE":430,"AD":180,"AP":180},
{"p":10,"x":28,"lo":65,"hi":150,"N":45,"DF":185,"KF":225,"KE":370,"AD":190,"AP":200},
{"p":10,"x":30,"lo":70,"hi":160,"N":55,"DF":180,"KF":225,"KE":320,"AD":185,"AP":190},
{"p":10,"x":34,"lo":80,"hi":180,"N":75,"DF":160,"KF":200,"KE":230,"AD":170,"AP":150},
{"p":10,"x":38,"lo":95,"hi":195,"N":90,"DF":160,"KF":200,"KE":200,"AD":170,"AP":140},
{"p":10,"x":42,"lo":110,"hi":220,"N":110,"DF":140,"KF":185,"KE":200,"AD":160,"AP":100},
{"p":10,"x":45,"lo":130,"hi":250,"N":120,"DF":125,"KF":165,"KE":170,"AD":145,"AP":55},
{"p":10,"x":48,"lo":150,"hi":290,"N":110,"DF":100,"KF":150,"KE":260,"AD":130,"AP":100},
{"p":10,"x":50,"lo":200,"hi":330,"N":80,"DF":200,"KF":200,"KE":330,"AD":220,"AP":200},
{"p":10,"x":52,"lo":240,"hi":360,"N":60,"DF":310,"KF":320,"KE":410,"AD":330,"AP":350},
{"p":10,"x":55,"lo":270,"hi":380,"N":40,"DF":420,"KF":440,"KE":500,"AD":440,"AP":510},
{"p":10,"x":58,"lo":290,"hi":400,"N":40,"DF":480,"KF":540,"KE":570,"AD":500,"AP":590},
{"p":10,"x":60,"lo":300,"hi":410,"N":40,"DF":510,"KF":560,"KE":580,"AD":520,"AP":590},
{"p":10,"x":62,"lo":310,"hi":420,"N":45,"DF":430,"KF":500,"KE":490,"AD":450,"AP":470},
{"p":10,"x":64,"lo":320,"hi":420,"N":50,"DF":410,"KF":460,"KE":450,"AD":430,"AP":440},
{"p":10,"x":65,"lo":300,"hi":410,"N":50,"DF":430,"KF":465,"KE":510,"AD":445,"AP":455},
{"p":10,"x":67,"lo":250,"hi":380,"N":60,"DF":465,"KF":520,"KE":490,"AD":470,"AP":475},
{"p":10,"x":70,"lo":150,"hi":320,"N":70,"DF":440,"KF":570,"KE":420,"AD":440,"AP":420},
{"p":10,"x":72,"lo":110,"hi":290,"N":110,"DF":380,"KF":540,"KE":350,"AD":390,"AP":340},
{"p":10,"x":74,"lo":80,"hi":270,"N":130,"DF":300,"KF":460,"KE":280,"AD":320,"AP":270},
{"p":10,"x":76,"lo":60,"hi":275,"N":125,"DF":240,"KF":350,"KE":250,"AD":260,"AP":220},
{"p":10,"x":78,"lo":80,"hi":320,"N":110,"DF":200,"KF":280,"KE":240,"AD":220,"AP":200},
{"p":10,"x":80,"lo":110,"hi":340,"N":90,"DF":190,"KF":240,"KE":230,"AD":210,"AP":190},
{"p":10,"x":83,"lo":140,"hi":340,"N":70,"DF":200,"KF":270,"KE":260,"AD":220,"AP":210},
{"p":10,"x":86,"lo":200,"hi":330,"N":55,"DF":225,"KF":290,"KE":285,"AD":245,"AP":235},
{"p":10,"x":90,"lo":230,"hi":310,"N":20,"DF":250,"KF":310,"KE":300,"AD":270,"AP":260},
{"p":10,"x":95,"lo":140,"hi":280,"N":10,"DF":290,"KF":350,"KE":350,"AD":300,"AP":300},
{"p":10,"x":98,"lo":130,"hi":270,"N":8,"DF":280,"KF":330,"KE":300,"AD":280,"AP":270},
{"p":10,"x":100,"lo":130,"hi":260,"N":5,"DF":220,"KF":270,"KE":230,"AD":230,"AP":200},
{"p":11,"x":0,"lo":60,"hi":230,"N":200,"DF":260,"KF":270,"KE":250,"AD":320,"AP":245},
{"p":11,"x":1,"lo":65,"hi":235,"N":215,"DF":300,"KF":255,"KE":300,"AD":380,"AP":240},
{"p":11,"x":3,"lo":75,"hi":245,"N":250,"DF":355,"KF":240,"KE":310,"AD":475,"AP":245},
{"p":11,"x":4,"lo":80,"hi":250,"N":300,"DF":330,"KF":250,"KE":290,"AD":470,"AP":255},
{"p":11,"x":5,"lo":80,"hi":250,"N":315,"DF":300,"KF":275,"KE":230,"AD":440,"AP":265},
{"p":11,"x":6,"lo":75,"hi":248,"N":250,"DF":280,"KF":285,"KE":200,"AD":400,"AP":260},
{"p":11,"x":8,"lo":60,"hi":240,"N":150,"DF":260,"KF":275,"KE":185,"AD":350,"AP":250},
{"p":11,"x":10,"lo":40,"hi":250,"N":115,"DF":240,"KF":260,"KE":180,"AD":330,"AP":230},
{"p":11,"x":13,"lo":100,"hi":260,"N":100,"DF":225,"KF":230,"KE":190,"AD":315,"AP":215},
{"p":11,"x":15,"lo":100,"hi":240,"N":85,"DF":225,"KF":230,"KE":180,"AD":305,"AP":215},
{"p":11,"x":17,"lo":50,"hi":215,"N":75,"DF":220,"KF":230,"KE":150,"AD":290,"AP":225},
{"p":11,"x":20,"lo":20,"hi":190,"N":50,"DF":165,"KF":175,"KE":135,"AD":230,"AP":195},
{"p":11,"x":23,"lo":12,"hi":175,"N":48,"DF":160,"KF":165,"KE":140,"AD":215,"AP":160},
{"p":11,"x":25,"lo":10,"hi":170,"N":45,"DF":145,"KF":160,"KE":120,"AD":200,"AP":155},
{"p":11,"x":28,"lo":10,"hi":172,"N":35,"DF":100,"KF":110,"KE":85,"AD":150,"AP":140},
{"p":11,"x":30,"lo":10,"hi":175,"N":30,"DF":80,"KF":90,"KE":70,"AD":120,"AP":100},
{"p":11,"x":35,"lo":10,"hi":175,"N":22,"DF":70,"KF":75,"KE":65,"AD":110,"AP":75},
{"p":11,"x":40,"lo":10,"hi":170,"N":28,"DF":65,"KF":70,"KE":65,"AD":105,"AP":70},
{"p":11,"x":45,"lo":10,"hi":140,"N":15,"DF":60,"KF":65,"KE":60,"AD":95,"AP":65},
{"p":11,"x":50,"lo":10,"hi":175,"N":10,"DF":60,"KF":60,"KE":55,"AD":80,"AP":65},
{"p":11,"x":55,"lo":10,"hi":230,"N":10,"DF":65,"KF":65,"KE":60,"AD":85,"AP":70},
{"p":11,"x":58,"lo":10,"hi":255,"N":10,"DF":70,"KF":75,"KE":70,"AD":100,"AP":80},
{"p":11,"x":60,"lo":10,"hi":265,"N":10,"DF":80,"KF":90,"KE":85,"AD":120,"AP":95},
{"p":11,"x":62,"lo":20,"hi":285,"N":12,"DF":100,"KF":100,"KE":100,"AD":250,"AP":200},
{"p":11,"x":63,"lo":30,"hi":290,"N":12,"DF":300,"KF":105,"KE":150,"AD":400,"AP":280},
{"p":11,"x":64,"lo":40,"hi":288,"N":13,"DF":340,"KF":300,"KE":290,"AD":380,"AP":320},
{"p":11,"x":66,"lo":60,"hi":280,"N":14,"DF":320,"KF":320,"KE":310,"AD":350,"AP":305},
{"p":11,"x":68,"lo":70,"hi":265,"N":15,"DF":300,"KF":300,"KE":300,"AD":360,"AP":300},
{"p":11,"x":69,"lo":75,"hi":258,"N":60,"DF":302,"KF":295,"KE":305,"AD":370,"AP":302},
{"p":11,"x":70,"lo":80,"hi":250,"N":130,"DF":310,"KF":290,"KE":315,"AD":380,"AP":310},
{"p":11,"x":73,"lo":70,"hi":242,"N":120,"DF":325,"KF":310,"KE":330,"AD":400,"AP":330},
{"p":11,"x":75,"lo":50,"hi":240,"N":110,"DF":320,"KF":325,"KE":330,"AD":390,"AP":340},
{"p":11,"x":78,"lo":30,"hi":255,"N":100,"DF":290,"KF":345,"KE":300,"AD":340,"AP":335},
{"p":11,"x":80,"lo":20,"hi":265,"N":100,"DF":250,"KF":330,"KE":260,"AD":290,"AP":310},
{"p":11,"x":85,"lo":10,"hi":260,"N":120,"DF":210,"KF":260,"KE":235,"AD":250,"AP":265},
{"p":11,"x":90,"lo":10,"hi":240,"N":135,"DF":210,"KF":240,"KE":230,"AD":250,"AP":255},
{"p":11,"x":95,"lo":20,"hi":230,"N":145,"DF":225,"KF":245,"KE":240,"AD":280,"AP":265},
{"p":11,"x":98,"lo":35,"hi":215,"N":160,"DF":240,"KF":250,"KE":245,"AD":315,"AP":260},
{"p":11,"x":100,"lo":50,"hi":200,"N":190,"DF":250,"KF":255,"KE":250,"AD":315,"AP":250},
{"p":12,"x":0,"lo":0,"hi":300,"N":200,"DF":280,"KF":300,"KE":250,"AD":320,"AP":350},
{"p":12,"x":3,"lo":100,"hi":350,"N":190,"DF":300,"KF":340,"KE":270,"AD":310,"AP":380},
{"p":12,"x":5,"lo":250,"hi":420,"N":150,"DF":280,"KF":380,"KE":280,"AD":290,"AP":420},
{"p":12,"x":8,"lo":350,"hi":600,"N":230,"DF":330,"KF":450,"KE":330,"AD":330,"AP":480},
{"p":12,"x":10,"lo":450,"hi":700,"N":280,"DF":380,"KF":500,"KE":390,"AD":380,"AP":550},
{"p":12,"x":13,"lo":500,"hi":760,"N":310,"DF":450,"KF":590,"KE":460,"AD":450,"AP":650},
{"p":12,"x":15,"lo":600,"hi":880,"N":320,"DF":520,"KF":670,"KE":530,"AD":520,"AP":750},
{"p":12,"x":18,"lo":700,"hi":1000,"N":345,"DF":620,"KF":790,"KE":630,"AD":620,"AP":880},
{"p":12,"x":20,"lo":720,"hi":1050,"N":360,"DF":680,"KF":880,"KE":690,"AD":680,"AP":970},
{"p":12,"x":23,"lo":700,"hi":1100,"N":370,"DF":700,"KF":950,"KE":710,"AD":700,"AP":1100},
{"p":12,"x":25,"lo":720,"hi":1150,"N":380,"DF":730,"KF":980,"KE":730,"AD":720,"AP":1130},
{"p":12,"x":28,"lo":720,"hi":1250,"N":380,"DF":780,"KF":1050,"KE":790,"AD":780,"AP":1180},
{"p":12,"x":30,"lo":800,"hi":1350,"N":380,"DF":840,"KF":1100,"KE":850,"AD":840,"AP":1260},
{"p":12,"x":33,"lo":950,"hi":1500,"N":382,"DF":890,"KF":1160,"KE":900,"AD":880,"AP":1350},
{"p":12,"x":35,"lo":1050,"hi":1560,"N":385,"DF":910,"KF":1180,"KE":920,"AD":900,"AP":1410},
{"p":12,"x":38,"lo":1100,"hi":1720,"N":390,"DF":940,"KF":1200,"KE":960,"AD":940,"AP":1490},
{"p":12,"x":40,"lo":1000,"hi":1620,"N":400,"DF":1000,"KF":1230,"KE":1050,"AD":1000,"AP":1550},
{"p":12,"x":43,"lo":700,"hi":1350,"N":450,"DF":1150,"KF":1350,"KE":1250,"AD":1130,"AP":1700},
{"p":12,"x":45,"lo":500,"hi":1150,"N":600,"DF":1300,"KF":1500,"KE":1450,"AD":1280,"AP":1870},
{"p":12,"x":48,"lo":350,"hi":750,"N":1000,"DF":1520,"KF":1750,"KE":1560,"AD":1500,"AP":2080},
{"p":12,"x":50,"lo":300,"hi":600,"N":1200,"DF":1600,"KF":1800,"KE":1450,"AD":1600,"AP":2150},
{"p":12,"x":52,"lo":290,"hi":560,"N":1400,"DF":1520,"KF":1700,"KE":1200,"AD":1550,"AP":2050},
{"p":12,"x":54,"lo":285,"hi":530,"N":1500,"DF":1300,"KF":1500,"KE":950,"AD":1350,"AP":1800},
{"p":12,"x":56,"lo":280,"hi":510,"N":1350,"DF":1050,"KF":1200,"KE":700,"AD":1100,"AP":1500},
{"p":12,"x":58,"lo":280,"hi":490,"N":1100,"DF":750,"KF":900,"KE":500,"AD":800,"AP":1100},
{"p":12,"x":60,"lo":280,"hi":480,"N":850,"DF":550,"KF":600,"KE":380,"AD":600,"AP":750},
{"p":12,"x":62,"lo":280,"hi":440,"N":700,"DF":380,"KF":400,"KE":320,"AD":400,"AP":450},
{"p":12,"x":64,"lo":260,"hi":400,"N":550,"DF":320,"KF":300,"KE":300,"AD":350,"AP":330},
{"p":12,"x":66,"lo":220,"hi":370,"N":380,"DF":320,"KF":280,"KE":300,"AD":340,"AP":300},
{"p":12,"x":68,"lo":190,"hi":330,"N":240,"DF":330,"KF":260,"KE":310,"AD":360,"AP":320},
{"p":12,"x":70,"lo":170,"hi":300,"N":160,"DF":350,"KF":280,"KE":320,"AD":420,"AP":340},
{"p":12,"x":73,"lo":140,"hi":280,"N":130,"DF":370,"KF":310,"KE":340,"AD":450,"AP":370},
{"p":12,"x":75,"lo":120,"hi":260,"N":120,"DF":360,"KF":340,"KE":330,"AD":430,"AP":380},
{"p":12,"x":78,"lo":80,"hi":255,"N":120,"DF":310,"KF":320,"KE":290,"AD":360,"AP":330},
{"p":12,"x":80,"lo":60,"hi":250,"N":125,"DF":280,"KF":280,"KE":260,"AD":300,"AP":290},
{"p":12,"x":85,"lo":40,"hi":250,"N":150,"DF":230,"KF":250,"KE":220,"AD":250,"AP":260},
{"p":12,"x":90,"lo":30,"hi":230,"N":180,"DF":220,"KF":240,"KE":210,"AD":240,"AP":260},
{"p":12,"x":95,"lo":20,"hi":220,"N":190,"DF":220,"KF":230,"KE":200,"AD":260,"AP":260},
{"p":12,"x":100,"lo":10,"hi":200,"N":200,"DF":260,"KF":230,"KE":220,"AD":320,"AP":280}
]},
"columns":4,
"spacing":{"row":65.5,"column":72},
"bounds":"flush",
"concat":[
{"title":"Iliopsoas Force","width":232,"height":145,"transform":[{"filter":"datum.p==1"}],"resolve":{"scale":{"x":"independent","y":"independent"},"axis":{"x":"independent","y":"independent"}},"encoding":{"x":{"field":"x","type":"quantitative","scale":{"domain":[0,100],"nice":false},"axis":{"values":[0,20,40,60,80,100],"title":null}}},"layer":[
{"mark":{"type":"area","color":"#dedede","clip":true},"encoding":{"y":{"field":"lo","type":"quantitative","scale":{"domain":[0,1000],"nice":false},"axis":{"values":[0,500,1000],"title":"Force (N)"}},"y2":{"field":"hi"}}},
{"transform":[{"fold":["N","DF","KF","KE","AD","AP"],"as":["s","v"]}],"mark":{"type":"line","strokeWidth":1.8,"clip":true},"encoding":{"x":{"field":"x","type":"quantitative","scale":{"domain":[0,100],"nice":false},"axis":{"orient":"top","values":[0,20,40,60,80,100],"labels":false,"title":null}},"y":{"field":"v","type":"quantitative","scale":{"domain":[0,1000],"nice":false},"axis":{"orient":"right","values":[0,500,1000],"labels":false,"title":null}},"color":{"field":"s","type":"nominal","scale":{"domain":["TR","N","DF","KF","KE","AD","AP"],"range":["#dedede","#0000ff","#ff0000","#33bb33","#00ffff","#ffa500","#ff00ff"]},"legend":{"orient":"none","legendX":1087,"legendY":415,"title":null,"symbolType":"M-1,0H9.5","symbolSize":64,"symbolStrokeWidth":2,"labelOffset":34,"symbolOffset":-2,"rowPadding":4.5,"padding":5,"strokeColor":"#262626","fillColor":"#ffffff","labelExpr":"datum.value=='TR'?'Track-DF PM-High':datum.value=='N'?'Pred-Normal\u2080.\u2085\u2085':datum.value=='DF'?'Pred-DF':datum.value=='KF'?'Strong-KF':datum.value=='KE'?'Strong-KE':datum.value=='AD'?'Strong-AD':'Strong-AP'","encoding":{"symbols":{"shape":{"condition":{"test":"datum.value==='TR'","value":"M-1,-1.1H9.5V1.1H-1Z"},"value":"M-1,0H9.5"},"fill":{"condition":{"test":"datum.value==='TR'","value":"#dedede"},"value":"transparent"}}}}}}}
]},
{"title":"Gluteus Maximus Force","width":232,"height":145,"transform":[{"filter":"datum.p==2"}],"resolve":{"scale":{"x":"independent","y":"independent"},"axis":{"x":"independent","y":"independent"}},"encoding":{"x":{"field":"x","type":"quantitative","scale":{"domain":[0,100],"nice":false},"axis":{"values":[0,20,40,60,80,100],"title":null}}},"layer":[
{"mark":{"type":"area","color":"#dedede","clip":true},"encoding":{"y":{"field":"lo","type":"quantitative","scale":{"domain":[0,200],"nice":false},"axis":{"values":[0,50,100,150,200],"title":null}},"y2":{"field":"hi"}}},
{"transform":[{"fold":["N","DF","KF","KE","AD","AP"],"as":["s","v"]}],"mark":{"type":"line","strokeWidth":1.8,"clip":true},"encoding":{"x":{"field":"x","type":"quantitative","scale":{"domain":[0,100],"nice":false},"axis":{"orient":"top","values":[0,20,40,60,80,100],"labels":false,"title":null}},"y":{"field":"v","type":"quantitative","scale":{"domain":[0,200],"nice":false},"axis":{"orient":"right","values":[0,50,100,150,200],"labels":false,"title":null}},"color":{"field":"s","type":"nominal","scale":{"domain":["TR","N","DF","KF","KE","AD","AP"],"range":["#dedede","#0000ff","#ff0000","#33bb33","#00ffff","#ffa500","#ff00ff"]},"legend":{"orient":"none","legendX":1087,"legendY":415,"title":null,"symbolType":"M-1,0H9.5","symbolSize":64,"symbolStrokeWidth":2,"labelOffset":34,"symbolOffset":-2,"rowPadding":4.5,"padding":5,"strokeColor":"#262626","fillColor":"#ffffff","labelExpr":"datum.value=='TR'?'Track-DF PM-High':datum.value=='N'?'Pred-Normal\u2080.\u2085\u2085':datum.value=='DF'?'Pred-DF':datum.value=='KF'?'Strong-KF':datum.value=='KE'?'Strong-KE':datum.value=='AD'?'Strong-AD':'Strong-AP'","encoding":{"symbols":{"shape":{"condition":{"test":"datum.value==='TR'","value":"M-1,-1.1H9.5V1.1H-1Z"},"value":"M-1,0H9.5"},"fill":{"condition":{"test":"datum.value==='TR'","value":"#dedede"},"value":"transparent"}}}}}}}
]},
{"title":"Hamstrings Force","width":232,"height":145,"transform":[{"filter":"datum.p==3"}],"resolve":{"scale":{"x":"independent","y":"independent"},"axis":{"x":"independent","y":"independent"}},"encoding":{"x":{"field":"x","type":"quantitative","scale":{"domain":[0,100],"nice":false},"axis":{"values":[0,20,40,60,80,100],"title":null}}},"layer":[
{"mark":{"type":"area","color":"#dedede","clip":true},"encoding":{"y":{"field":"lo","type":"quantitative","scale":{"domain":[0,500],"nice":false},"axis":{"values":[0,100,200,300,400,500],"title":null}},"y2":{"field":"hi"}}},
{"transform":[{"fold":["N","DF","KF","KE","AD","AP"],"as":["s","v"]}],"mark":{"type":"line","strokeWidth":1.8,"clip":true},"encoding":{"x":{"field":"x","type":"quantitative","scale":{"domain":[0,100],"nice":false},"axis":{"orient":"top","values":[0,20,40,60,80,100],"labels":false,"title":null}},"y":{"field":"v","type":"quantitative","scale":{"domain":[0,500],"nice":false},"axis":{"orient":"right","values":[0,100,200,300,400,500],"labels":false,"title":null}},"color":{"field":"s","type":"nominal","scale":{"domain":["TR","N","DF","KF","KE","AD","AP"],"range":["#dedede","#0000ff","#ff0000","#33bb33","#00ffff","#ffa500","#ff00ff"]},"legend":{"orient":"none","legendX":1087,"legendY":415,"title":null,"symbolType":"M-1,0H9.5","symbolSize":64,"symbolStrokeWidth":2,"labelOffset":34,"symbolOffset":-2,"rowPadding":4.5,"padding":5,"strokeColor":"#262626","fillColor":"#ffffff","labelExpr":"datum.value=='TR'?'Track-DF PM-High':datum.value=='N'?'Pred-Normal\u2080.\u2085\u2085':datum.value=='DF'?'Pred-DF':datum.value=='KF'?'Strong-KF':datum.value=='KE'?'Strong-KE':datum.value=='AD'?'Strong-AD':'Strong-AP'","encoding":{"symbols":{"shape":{"condition":{"test":"datum.value==='TR'","value":"M-1,-1.1H9.5V1.1H-1Z"},"value":"M-1,0H9.5"},"fill":{"condition":{"test":"datum.value==='TR'","value":"#dedede"},"value":"transparent"}}}}}}}
]},
{"title":"Rectus Femoris Force","width":232,"height":145,"transform":[{"filter":"datum.p==4"}],"resolve":{"scale":{"x":"independent","y":"independent"},"axis":{"x":"independent","y":"independent"}},"encoding":{"x":{"field":"x","type":"quantitative","scale":{"domain":[0,100],"nice":false},"axis":{"values":[0,20,40,60,80,100],"title":null}}},"layer":[
{"mark":{"type":"area","color":"#dedede","clip":true},"encoding":{"y":{"field":"lo","type":"quantitative","scale":{"domain":[0,500],"nice":false},"axis":{"values":[0,100,200,300,400,500],"title":null}},"y2":{"field":"hi"}}},
{"transform":[{"fold":["N","DF","KF","KE","AD","AP"],"as":["s","v"]}],"mark":{"type":"line","strokeWidth":1.8,"clip":true},"encoding":{"x":{"field":"x","type":"quantitative","scale":{"domain":[0,100],"nice":false},"axis":{"orient":"top","values":[0,20,40,60,80,100],"labels":false,"title":null}},"y":{"field":"v","type":"quantitative","scale":{"domain":[0,500],"nice":false},"axis":{"orient":"right","values":[0,100,200,300,400,500],"labels":false,"title":null}},"color":{"field":"s","type":"nominal","scale":{"domain":["TR","N","DF","KF","KE","AD","AP"],"range":["#dedede","#0000ff","#ff0000","#33bb33","#00ffff","#ffa500","#ff00ff"]},"legend":{"orient":"none","legendX":1087,"legendY":415,"title":null,"symbolType":"M-1,0H9.5","symbolSize":64,"symbolStrokeWidth":2,"labelOffset":34,"symbolOffset":-2,"rowPadding":4.5,"padding":5,"strokeColor":"#262626","fillColor":"#ffffff","labelExpr":"datum.value=='TR'?'Track-DF PM-High':datum.value=='N'?'Pred-Normal\u2080.\u2085\u2085':datum.value=='DF'?'Pred-DF':datum.value=='KF'?'Strong-KF':datum.value=='KE'?'Strong-KE':datum.value=='AD'?'Strong-AD':'Strong-AP'","encoding":{"symbols":{"shape":{"condition":{"test":"datum.value==='TR'","value":"M-1,-1.1H9.5V1.1H-1Z"},"value":"M-1,0H9.5"},"fill":{"condition":{"test":"datum.value==='TR'","value":"#dedede"},"value":"transparent"}}}}}}}
]},
{"title":"Vasti Force","width":232,"height":145,"transform":[{"filter":"datum.p==5"}],"resolve":{"scale":{"x":"independent","y":"independent"},"axis":{"x":"independent","y":"independent"}},"encoding":{"x":{"field":"x","type":"quantitative","scale":{"domain":[0,100],"nice":false},"axis":{"values":[0,20,40,60,80,100],"title":null}}},"layer":[
{"mark":{"type":"area","color":"#dedede","clip":true},"encoding":{"y":{"field":"lo","type":"quantitative","scale":{"domain":[0,1000],"nice":false},"axis":{"values":[0,500,1000],"title":"Force (N)"}},"y2":{"field":"hi"}}},
{"transform":[{"fold":["N","DF","KF","KE","AD","AP"],"as":["s","v"]}],"mark":{"type":"line","strokeWidth":1.8,"clip":true},"encoding":{"x":{"field":"x","type":"quantitative","scale":{"domain":[0,100],"nice":false},"axis":{"orient":"top","values":[0,20,40,60,80,100],"labels":false,"title":null}},"y":{"field":"v","type":"quantitative","scale":{"domain":[0,1000],"nice":false},"axis":{"orient":"right","values":[0,500,1000],"labels":false,"title":null}},"color":{"field":"s","type":"nominal","scale":{"domain":["TR","N","DF","KF","KE","AD","AP"],"range":["#dedede","#0000ff","#ff0000","#33bb33","#00ffff","#ffa500","#ff00ff"]},"legend":{"orient":"none","legendX":1087,"legendY":415,"title":null,"symbolType":"M-1,0H9.5","symbolSize":64,"symbolStrokeWidth":2,"labelOffset":34,"symbolOffset":-2,"rowPadding":4.5,"padding":5,"strokeColor":"#262626","fillColor":"#ffffff","labelExpr":"datum.value=='TR'?'Track-DF PM-High':datum.value=='N'?'Pred-Normal\u2080.\u2085\u2085':datum.value=='DF'?'Pred-DF':datum.value=='KF'?'Strong-KF':datum.value=='KE'?'Strong-KE':datum.value=='AD'?'Strong-AD':'Strong-AP'","encoding":{"symbols":{"shape":{"condition":{"test":"datum.value==='TR'","value":"M-1,-1.1H9.5V1.1H-1Z"},"value":"M-1,0H9.5"},"fill":{"condition":{"test":"datum.value==='TR'","value":"#dedede"},"value":"transparent"}}}}}}}
]},
{"title":"Gastrocnemius Force","width":232,"height":145,"transform":[{"filter":"datum.p==6"}],"resolve":{"scale":{"x":"independent","y":"independent"},"axis":{"x":"independent","y":"independent"}},"encoding":{"x":{"field":"x","type":"quantitative","scale":{"domain":[0,100],"nice":false},"axis":{"values":[0,20,40,60,80,100],"title":null}}},"layer":[
{"mark":{"type":"area","color":"#dedede","clip":true},"encoding":{"y":{"field":"lo","type":"quantitative","scale":{"domain":[0,1500],"nice":false},"axis":{"values":[0,500,1000,1500],"title":null}},"y2":{"field":"hi"}}},
{"transform":[{"fold":["N","DF","KF","KE","AD","AP"],"as":["s","v"]}],"mark":{"type":"line","strokeWidth":1.8,"clip":true},"encoding":{"x":{"field":"x","type":"quantitative","scale":{"domain":[0,100],"nice":false},"axis":{"orient":"top","values":[0,20,40,60,80,100],"labels":false,"title":null}},"y":{"field":"v","type":"quantitative","scale":{"domain":[0,1500],"nice":false},"axis":{"orient":"right","values":[0,500,1000,1500],"labels":false,"title":null}},"color":{"field":"s","type":"nominal","scale":{"domain":["TR","N","DF","KF","KE","AD","AP"],"range":["#dedede","#0000ff","#ff0000","#33bb33","#00ffff","#ffa500","#ff00ff"]},"legend":{"orient":"none","legendX":1087,"legendY":415,"title":null,"symbolType":"M-1,0H9.5","symbolSize":64,"symbolStrokeWidth":2,"labelOffset":34,"symbolOffset":-2,"rowPadding":4.5,"padding":5,"strokeColor":"#262626","fillColor":"#ffffff","labelExpr":"datum.value=='TR'?'Track-DF PM-High':datum.value=='N'?'Pred-Normal\u2080.\u2085\u2085':datum.value=='DF'?'Pred-DF':datum.value=='KF'?'Strong-KF':datum.value=='KE'?'Strong-KE':datum.value=='AD'?'Strong-AD':'Strong-AP'","encoding":{"symbols":{"shape":{"condition":{"test":"datum.value==='TR'","value":"M-1,-1.1H9.5V1.1H-1Z"},"value":"M-1,0H9.5"},"fill":{"condition":{"test":"datum.value==='TR'","value":"#dedede"},"value":"transparent"}}}}}}}
]},
{"title":"Soleus Force","width":232,"height":145,"transform":[{"filter":"datum.p==7"}],"resolve":{"scale":{"x":"independent","y":"independent"},"axis":{"x":"independent","y":"independent"}},"encoding":{"x":{"field":"x","type":"quantitative","scale":{"domain":[0,100],"nice":false},"axis":{"values":[0,20,40,60,80,100],"title":null}}},"layer":[
{"mark":{"type":"area","color":"#dedede","clip":true},"encoding":{"y":{"field":"lo","type":"quantitative","scale":{"domain":[0,1000],"nice":false},"axis":{"values":[0,500,1000],"title":null}},"y2":{"field":"hi"}}},
{"transform":[{"fold":["N","DF","KF","KE","AD","AP"],"as":["s","v"]}],"mark":{"type":"line","strokeWidth":1.8,"clip":true},"encoding":{"x":{"field":"x","type":"quantitative","scale":{"domain":[0,100],"nice":false},"axis":{"orient":"top","values":[0,20,40,60,80,100],"labels":false,"title":null}},"y":{"field":"v","type":"quantitative","scale":{"domain":[0,1000],"nice":false},"axis":{"orient":"right","values":[0,500,1000],"labels":false,"title":null}},"color":{"field":"s","type":"nominal","scale":{"domain":["TR","N","DF","KF","KE","AD","AP"],"range":["#dedede","#0000ff","#ff0000","#33bb33","#00ffff","#ffa500","#ff00ff"]},"legend":{"orient":"none","legendX":1087,"legendY":415,"title":null,"symbolType":"M-1,0H9.5","symbolSize":64,"symbolStrokeWidth":2,"labelOffset":34,"symbolOffset":-2,"rowPadding":4.5,"padding":5,"strokeColor":"#262626","fillColor":"#ffffff","labelExpr":"datum.value=='TR'?'Track-DF PM-High':datum.value=='N'?'Pred-Normal\u2080.\u2085\u2085':datum.value=='DF'?'Pred-DF':datum.value=='KF'?'Strong-KF':datum.value=='KE'?'Strong-KE':datum.value=='AD'?'Strong-AD':'Strong-AP'","encoding":{"symbols":{"shape":{"condition":{"test":"datum.value==='TR'","value":"M-1,-1.1H9.5V1.1H-1Z"},"value":"M-1,0H9.5"},"fill":{"condition":{"test":"datum.value==='TR'","value":"#dedede"},"value":"transparent"}}}}}}}
]},
{"title":"Tibialis Anterior Force","width":232,"height":145,"transform":[{"filter":"datum.p==8"}],"resolve":{"scale":{"x":"independent","y":"independent"},"axis":{"x":"independent","y":"independent"}},"encoding":{"x":{"field":"x","type":"quantitative","scale":{"domain":[0,100],"nice":false},"axis":{"values":[0,20,40,60,80,100],"title":null}}},"layer":[
{"mark":{"type":"area","color":"#dedede","clip":true},"encoding":{"y":{"field":"lo","type":"quantitative","scale":{"domain":[0,500],"nice":false},"axis":{"values":[0,100,200,300,400,500],"title":null}},"y2":{"field":"hi"}}},
{"transform":[{"fold":["N","DF","KF","KE","AD","AP"],"as":["s","v"]}],"mark":{"type":"line","strokeWidth":1.8,"clip":true},"encoding":{"x":{"field":"x","type":"quantitative","scale":{"domain":[0,100],"nice":false},"axis":{"orient":"top","values":[0,20,40,60,80,100],"labels":false,"title":null}},"y":{"field":"v","type":"quantitative","scale":{"domain":[0,500],"nice":false},"axis":{"orient":"right","values":[0,100,200,300,400,500],"labels":false,"title":null}},"color":{"field":"s","type":"nominal","scale":{"domain":["TR","N","DF","KF","KE","AD","AP"],"range":["#dedede","#0000ff","#ff0000","#33bb33","#00ffff","#ffa500","#ff00ff"]},"legend":{"orient":"none","legendX":1087,"legendY":415,"title":null,"symbolType":"M-1,0H9.5","symbolSize":64,"symbolStrokeWidth":2,"labelOffset":34,"symbolOffset":-2,"rowPadding":4.5,"padding":5,"strokeColor":"#262626","fillColor":"#ffffff","labelExpr":"datum.value=='TR'?'Track-DF PM-High':datum.value=='N'?'Pred-Normal\u2080.\u2085\u2085':datum.value=='DF'?'Pred-DF':datum.value=='KF'?'Strong-KF':datum.value=='KE'?'Strong-KE':datum.value=='AD'?'Strong-AD':'Strong-AP'","encoding":{"symbols":{"shape":{"condition":{"test":"datum.value==='TR'","value":"M-1,-1.1H9.5V1.1H-1Z"},"value":"M-1,0H9.5"},"fill":{"condition":{"test":"datum.value==='TR'","value":"#dedede"},"value":"transparent"}}}}}}}
]},
{"title":"Knee Flexor Force","width":232,"height":145,"transform":[{"filter":"datum.p==9"}],"resolve":{"scale":{"x":"independent","y":"independent"},"axis":{"x":"independent","y":"independent"}},"encoding":{"x":{"field":"x","type":"quantitative","scale":{"domain":[0,100],"nice":false},"axis":{"values":[0,20,40,60,80,100],"title":"Gait cycle (%)"}}},"layer":[
{"mark":{"type":"area","color":"#dedede","clip":true},"encoding":{"y":{"field":"lo","type":"quantitative","scale":{"domain":[0,1500],"nice":false},"axis":{"values":[0,500,1000,1500],"title":"Force (N)"}},"y2":{"field":"hi"}}},
{"transform":[{"fold":["N","DF","KF","KE","AD","AP"],"as":["s","v"]}],"mark":{"type":"line","strokeWidth":1.8,"clip":true},"encoding":{"x":{"field":"x","type":"quantitative","scale":{"domain":[0,100],"nice":false},"axis":{"orient":"top","values":[0,20,40,60,80,100],"labels":false,"title":null}},"y":{"field":"v","type":"quantitative","scale":{"domain":[0,1500],"nice":false},"axis":{"orient":"right","values":[0,500,1000,1500],"labels":false,"title":null}},"color":{"field":"s","type":"nominal","scale":{"domain":["TR","N","DF","KF","KE","AD","AP"],"range":["#dedede","#0000ff","#ff0000","#33bb33","#00ffff","#ffa500","#ff00ff"]},"legend":{"orient":"none","legendX":1087,"legendY":415,"title":null,"symbolType":"M-1,0H9.5","symbolSize":64,"symbolStrokeWidth":2,"labelOffset":34,"symbolOffset":-2,"rowPadding":4.5,"padding":5,"strokeColor":"#262626","fillColor":"#ffffff","labelExpr":"datum.value=='TR'?'Track-DF PM-High':datum.value=='N'?'Pred-Normal\u2080.\u2085\u2085':datum.value=='DF'?'Pred-DF':datum.value=='KF'?'Strong-KF':datum.value=='KE'?'Strong-KE':datum.value=='AD'?'Strong-AD':'Strong-AP'","encoding":{"symbols":{"shape":{"condition":{"test":"datum.value==='TR'","value":"M-1,-1.1H9.5V1.1H-1Z"},"value":"M-1,0H9.5"},"fill":{"condition":{"test":"datum.value==='TR'","value":"#dedede"},"value":"transparent"}}}}}}}
]},
{"title":"Knee Extensor Force","width":232,"height":145,"transform":[{"filter":"datum.p==10"}],"resolve":{"scale":{"x":"independent","y":"independent"},"axis":{"x":"independent","y":"independent"}},"encoding":{"x":{"field":"x","type":"quantitative","scale":{"domain":[0,100],"nice":false},"axis":{"values":[0,20,40,60,80,100],"title":"Gait cycle (%)"}}},"layer":[
{"mark":{"type":"area","color":"#dedede","clip":true},"encoding":{"y":{"field":"lo","type":"quantitative","scale":{"domain":[0,1000],"nice":false},"axis":{"values":[0,500,1000],"title":null}},"y2":{"field":"hi"}}},
{"transform":[{"fold":["N","DF","KF","KE","AD","AP"],"as":["s","v"]}],"mark":{"type":"line","strokeWidth":1.8,"clip":true},"encoding":{"x":{"field":"x","type":"quantitative","scale":{"domain":[0,100],"nice":false},"axis":{"orient":"top","values":[0,20,40,60,80,100],"labels":false,"title":null}},"y":{"field":"v","type":"quantitative","scale":{"domain":[0,1000],"nice":false},"axis":{"orient":"right","values":[0,500,1000],"labels":false,"title":null}},"color":{"field":"s","type":"nominal","scale":{"domain":["TR","N","DF","KF","KE","AD","AP"],"range":["#dedede","#0000ff","#ff0000","#33bb33","#00ffff","#ffa500","#ff00ff"]},"legend":{"orient":"none","legendX":1087,"legendY":415,"title":null,"symbolType":"M-1,0H9.5","symbolSize":64,"symbolStrokeWidth":2,"labelOffset":34,"symbolOffset":-2,"rowPadding":4.5,"padding":5,"strokeColor":"#262626","fillColor":"#ffffff","labelExpr":"datum.value=='TR'?'Track-DF PM-High':datum.value=='N'?'Pred-Normal\u2080.\u2085\u2085':datum.value=='DF'?'Pred-DF':datum.value=='KF'?'Strong-KF':datum.value=='KE'?'Strong-KE':datum.value=='AD'?'Strong-AD':'Strong-AP'","encoding":{"symbols":{"shape":{"condition":{"test":"datum.value==='TR'","value":"M-1,-1.1H9.5V1.1H-1Z"},"value":"M-1,0H9.5"},"fill":{"condition":{"test":"datum.value==='TR'","value":"#dedede"},"value":"transparent"}}}}}}}
]},
{"title":"Ankle Dorsiflexor Force","width":232,"height":145,"transform":[{"filter":"datum.p==11"}],"resolve":{"scale":{"x":"independent","y":"independent"},"axis":{"x":"independent","y":"independent"}},"encoding":{"x":{"field":"x","type":"quantitative","scale":{"domain":[0,100],"nice":false},"axis":{"values":[0,20,40,60,80,100],"title":"Gait cycle (%)"}}},"layer":[
{"mark":{"type":"area","color":"#dedede","clip":true},"encoding":{"y":{"field":"lo","type":"quantitative","scale":{"domain":[0,500],"nice":false},"axis":{"values":[0,100,200,300,400,500],"title":null}},"y2":{"field":"hi"}}},
{"transform":[{"fold":["N","DF","KF","KE","AD","AP"],"as":["s","v"]}],"mark":{"type":"line","strokeWidth":1.8,"clip":true},"encoding":{"x":{"field":"x","type":"quantitative","scale":{"domain":[0,100],"nice":false},"axis":{"orient":"top","values":[0,20,40,60,80,100],"labels":false,"title":null}},"y":{"field":"v","type":"quantitative","scale":{"domain":[0,500],"nice":false},"axis":{"orient":"right","values":[0,100,200,300,400,500],"labels":false,"title":null}},"color":{"field":"s","type":"nominal","scale":{"domain":["TR","N","DF","KF","KE","AD","AP"],"range":["#dedede","#0000ff","#ff0000","#33bb33","#00ffff","#ffa500","#ff00ff"]},"legend":{"orient":"none","legendX":1087,"legendY":415,"title":null,"symbolType":"M-1,0H9.5","symbolSize":64,"symbolStrokeWidth":2,"labelOffset":34,"symbolOffset":-2,"rowPadding":4.5,"padding":5,"strokeColor":"#262626","fillColor":"#ffffff","labelExpr":"datum.value=='TR'?'Track-DF PM-High':datum.value=='N'?'Pred-Normal\u2080.\u2085\u2085':datum.value=='DF'?'Pred-DF':datum.value=='KF'?'Strong-KF':datum.value=='KE'?'Strong-KE':datum.value=='AD'?'Strong-AD':'Strong-AP'","encoding":{"symbols":{"shape":{"condition":{"test":"datum.value==='TR'","value":"M-1,-1.1H9.5V1.1H-1Z"},"value":"M-1,0H9.5"},"fill":{"condition":{"test":"datum.value==='TR'","value":"#dedede"},"value":"transparent"}}}}}}}
]},
{"title":"Ankle Plantarflexor Force","width":232,"height":145,"transform":[{"filter":"datum.p==12"}],"resolve":{"scale":{"x":"independent","y":"independent"},"axis":{"x":"independent","y":"independent"}},"encoding":{"x":{"field":"x","type":"quantitative","scale":{"domain":[0,100],"nice":false},"axis":{"values":[0,20,40,60,80,100],"title":"Gait cycle (%)"}}},"layer":[
{"mark":{"type":"area","color":"#dedede","clip":true},"encoding":{"y":{"field":"lo","type":"quantitative","scale":{"domain":[0,2500],"nice":false},"axis":{"values":[0,500,1000,1500,2000,2500],"title":null}},"y2":{"field":"hi"}}},
{"transform":[{"fold":["N","DF","KF","KE","AD","AP"],"as":["s","v"]}],"mark":{"type":"line","strokeWidth":1.8,"clip":true},"encoding":{"x":{"field":"x","type":"quantitative","scale":{"domain":[0,100],"nice":false},"axis":{"orient":"top","values":[0,20,40,60,80,100],"labels":false,"title":null}},"y":{"field":"v","type":"quantitative","scale":{"domain":[0,2500],"nice":false},"axis":{"orient":"right","values":[0,500,1000,1500,2000,2500],"labels":false,"title":null}},"color":{"field":"s","type":"nominal","scale":{"domain":["TR","N","DF","KF","KE","AD","AP"],"range":["#dedede","#0000ff","#ff0000","#33bb33","#00ffff","#ffa500","#ff00ff"]},"legend":{"orient":"none","legendX":1087,"legendY":415,"title":null,"symbolType":"M-1,0H9.5","symbolSize":64,"symbolStrokeWidth":2,"labelOffset":34,"symbolOffset":-2,"rowPadding":4.5,"padding":5,"strokeColor":"#262626","fillColor":"#ffffff","labelExpr":"datum.value=='TR'?'Track-DF PM-High':datum.value=='N'?'Pred-Normal\u2080.\u2085\u2085':datum.value=='DF'?'Pred-DF':datum.value=='KF'?'Strong-KF':datum.value=='KE'?'Strong-KE':datum.value=='AD'?'Strong-AD':'Strong-AP'","encoding":{"symbols":{"shape":{"condition":{"test":"datum.value==='TR'","value":"M-1,-1.1H9.5V1.1H-1Z"},"value":"M-1,0H9.5"},"fill":{"condition":{"test":"datum.value==='TR'","value":"#dedede"},"value":"transparent"}}}}}}}
]}
],
"config":{
"font":"Liberation Sans",
"view":{"stroke":"#262626","strokeWidth":1},
"axis":{"grid":false,"domain":false,"format":"d","labelFont":"Liberation Sans","labelFontSize":12.5,"labelColor":"#333333","tickColor":"#262626","tickSize":-4,"titleFont":"Liberation Sans","titleFontSize":14,"titleFontWeight":"normal","titleColor":"#333333","labelFlush":false,"labelOverlap":false},
"axisX":{"labelPadding":11,"titlePadding":5},
"axisY":{"labelPadding":10,"titlePadding":3},
"title":{"font":"Liberation Sans","fontSize":17,"fontWeight":"bold","color":"#111111","offset":-2,"baseline":"alphabetic","anchor":"middle","frame":"group"},
"legend":{"labelFont":"Liberation Sans","labelFontSize":12,"labelColor":"#111111"}
}
}
